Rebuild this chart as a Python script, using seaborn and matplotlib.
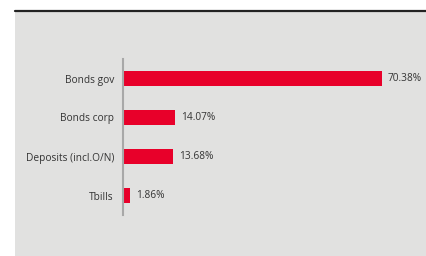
import matplotlib
matplotlib.use("Agg")
import matplotlib.pyplot as plt
import seaborn as sns
import pandas as pd
from matplotlib.patches import Rectangle
from matplotlib.lines import Line2D

# data
categories = ["Bonds gov", "Bonds corp", "Deposits (incl.O/N)", "Tbills"]
shares = [70.38, 14.07, 13.68, 1.86]
labels = ["70.38%", "14.07%", "13.68%", "1.86%"]

df = pd.DataFrame({"category": categories, "share": shares})

sns.set_style("white")
plt.rcParams["font.family"] = ["Open Sans", "DejaVu Sans"]

fig = plt.figure(figsize=(4.27, 2.56), dpi=100)
fig.patch.set_facecolor("white")

# grey panel and dark top rule
fig.patches.append(Rectangle((15 / 427, 0), 1 - 15 / 427, 1 - 10 / 256,
                             transform=fig.transFigure, facecolor="#e1e1e0",
                             edgecolor="none", zorder=-10))
fig.lines.append(Line2D([15 / 427, 1], [1 - 10.5 / 256, 1 - 10.5 / 256],
                        transform=fig.transFigure, color="#222222", lw=1.6,
                        zorder=-5))

ax = fig.add_axes([123 / 427, 41 / 256, 277 / 427, 156 / 256])
ax.set_facecolor("none")

sns.barplot(data=df, x="share", y="category", color="#e8002a",
            width=0.38, saturation=1, linewidth=0, ax=ax)

ax.set_xlim(0, 277 / 3.68)
ax.set_ylim(3.5, -0.5)
ax.set_xlabel("")
ax.set_ylabel("")
ax.set_xticks([])
for s in ["top", "right", "bottom"]:
    ax.spines[s].set_visible(False)
ax.spines["left"].set_color("#a8a8a8")
ax.spines["left"].set_linewidth(1.5)
ax.tick_params(axis="y", length=0, pad=6.5, labelsize=7.3, labelcolor="#333333")

for i, (v, t) in enumerate(zip(shares, labels)):
    ax.annotate(t, (v, i), xytext=(4.3, 0), textcoords="offset points",
                va="center", ha="left", fontsize=7.3, color="#333333")

fig.savefig("out.png", dpi=100)
